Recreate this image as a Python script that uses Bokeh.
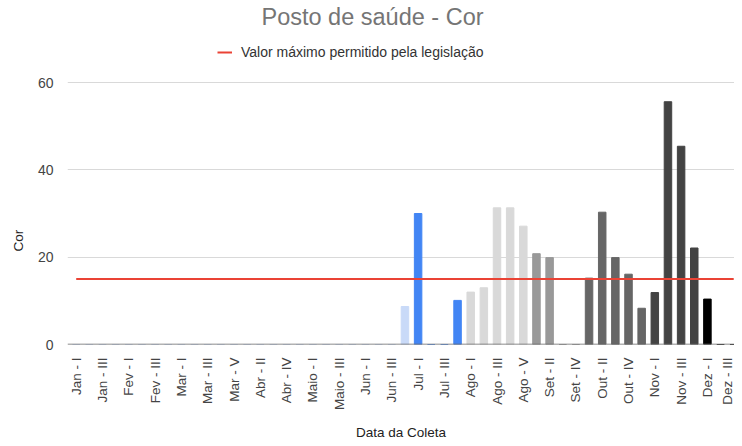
import math
from bokeh.plotting import figure
from bokeh.models import FixedTicker, Legend, LegendItem, Span, ColumnDataSource, Title
from bokeh.embed import file_html
from bokeh.resources import INLINE

categories = [
    "Jan - I", "Jan - II", "Jan - III", "Jan - IV",
    "Fev - I", "Fev - II", "Fev - III", "Fev - IV",
    "Mar - I", "Mar - II", "Mar - III", "Mar - IV", "Mar - V",
    "Abr - I", "Abr - II", "Abr - III", "Abr - IV", "Abr - V",
    "Maio - I", "Maio - II", "Maio - III", "Maio - IV",
    "Jun - I", "Jun - II", "Jun - III", "Jun - IV",
    "Jul - I", "Jul - II", "Jul - III", "Jul - IV",
    "Ago - I", "Ago - II", "Ago - III", "Ago - IV", "Ago - V",
    "Set - I", "Set - II", "Set - III", "Set - IV",
    "Out - I", "Out - II", "Out - III", "Out - IV", "Out - V",
    "Nov - I", "Nov - II", "Nov - III", "Nov - IV",
    "Dez - I", "Dez - II", "Dez - III",
]

cor_values = [
    0, 0, 0, 0,
    0, 0, 0, 0,
    0, 0, 0, 0, 0,
    0, 0, 0, 0, 0,
    0, 0, 0, 0,
    0, 0, 0, 8.7,
    30.0, 0, 0, 10.1,
    12.0, 13.0, 31.3, 31.3, 27.1,
    20.8, 19.9, 0, 0,
    15.2, 30.3, 19.9, 16.1, 8.3,
    11.9, 55.6, 45.4, 22.1,
    10.4, 0, 0,
]

limit_values = [15] * len(categories)

y_ticks = [0, 20, 40, 60]

bar_colors = (
    ["#c9daf8"] * 26
    + ["#4285f4"] * 4
    + ["#d9d9d9"] * 5
    + ["#999999"] * 4
    + ["#666666"] * 5
    + ["#434343"] * 4
    + ["#000000"] * 3
)

x_idx = list(range(len(categories)))
src = ColumnDataSource(dict(x=x_idx, top=cor_values, color=bar_colors))

FONT = "Liberation Sans"

# frame spans from just under the title down to the zero line; gridlines stop at 60
p = figure(
    width=734, height=446, output_backend="svg", toolbar_location=None,
    x_range=(-0.662, 50.06), y_range=(0, 72.14),
    min_border_left=59, min_border_right=0, min_border_top=29, min_border_bottom=102,
    title="Posto de saúde - Cor",
)
p.outline_line_color = None
p.background_fill_color = "white"

p.title.align = "left"
p.title.offset = 194
p.title.standoff = 0
p.title.text_font = FONT
p.title.text_font_size = "23.5px"
p.title.text_font_style = "normal"
p.title.text_color = "#757575"

p.vbar(x="x", top="top", width=0.57, color="color", source=src)

red = p.line(x_idx, limit_values, line_color="#ea4335", line_width=2)

p.add_layout(Span(location=0, dimension="width", line_color="#666666", line_width=1.5))

p.xgrid.grid_line_color = None
p.ygrid.grid_line_color = "#d9d9d9"
p.ygrid.grid_line_width = 1
p.yaxis.ticker = FixedTicker(ticks=y_ticks)

p.xaxis.ticker = FixedTicker(ticks=x_idx[::2])
p.xaxis.major_label_overrides = {i: categories[i] for i in x_idx}
p.xaxis.major_label_orientation = math.pi / 2

for ax in (p.xaxis[0], p.yaxis[0]):
    ax.axis_line_color = None
    ax.major_tick_line_color = None
    ax.minor_tick_line_color = None
    ax.major_label_text_font = FONT
    ax.major_label_text_color = "#444444"
    ax.axis_label_text_font = FONT
    ax.axis_label_text_font_style = "normal"
    ax.axis_label_text_color = "#222222"
    ax.axis_label_text_font_size = "13.5px"

p.xaxis.major_label_text_font_size = "13.5px"
p.xaxis.major_label_standoff = 7
p.xaxis.axis_label = "Data da Coleta"
p.xaxis.axis_label_standoff = 12

p.yaxis.major_label_text_font_size = "14px"
p.yaxis.major_label_standoff = 8

ytitle = Title(text="Cor", align="left", offset=93, standoff=17,
               text_font=FONT, text_font_size="13.5px", text_font_style="normal",
               text_color="#222222")
p.add_layout(ytitle, "left")

legend = Legend(
    items=[LegendItem(label="Valor máximo permitido pela legislação", renderers=[red])],
    location=(150, 284), orientation="horizontal",
    padding=0, margin=0, spacing=0,
    glyph_width=15, glyph_height=16, label_standoff=9,
    label_text_font=FONT, label_text_font_size="14px", label_text_color="#333333",
    border_line_color=None, background_fill_alpha=0,
)
p.add_layout(legend)

open("out.html", "w").write(file_html(p, INLINE))
